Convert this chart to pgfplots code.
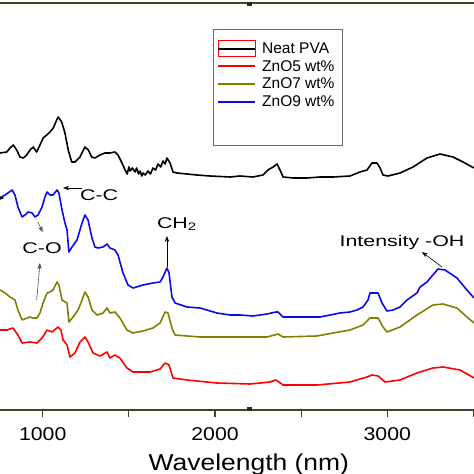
\documentclass[border=0pt]{standalone}
\usepackage{fontspec}
\setmainfont{Liberation Sans}
\usepackage{graphicx}
\usepackage{pgfplots}
\pgfplotsset{compat=1.18}
\usetikzlibrary{arrows.meta}
\definecolor{olivec}{RGB}{128,128,0}
\definecolor{axisc}{RGB}{70,66,40}
\definecolor{blueC}{RGB}{10,10,240}
\newcommand{\sx}[1]{\scalebox{1.15}[1]{#1}}
\newcommand{\ax}[1]{\scalebox{1.38}[1]{#1}}
\pgfplotsset{
  legblack/.style={legend image code/.code={\draw[red, line width=0.5bp, overlay] (0bp,-8bp) rectangle (37bp,8bp); \draw[black, line width=2bp] (0bp,0bp) -- (37bp,0bp);}},
  legred/.style={legend image code/.code={\draw[red, line width=2bp] (0bp,0bp) -- (37bp,0bp);}},
  legolive/.style={legend image code/.code={\draw[olivec, line width=2bp] (0bp,0bp) -- (37bp,0bp);}},
  legblue/.style={legend image code/.code={\draw[blueC, line width=2bp] (0bp,0bp) -- (37bp,0bp);}},
}

\pgfplotstableread{
w y
752 257
791 258
810 262
829 265
849 260
868 253
887 252
907 255
926 260
945 263
965 258
984 265
1003 272
1023 275
1042 278
1061 282
1081 290
1090 293
1110 288
1129 277
1148 260
1168 248
1187 248
1216 253
1245 263
1265 260
1284 253
1303 252
1332 255
1361 257
1390 257
1419 258
1437 255
1460 247
1478 240
1490 236
1500 243
1507 239
1520 242
1536 238
1545 242
1556 236
1565 239
1575 234
1582 237
1595 235
1611 239
1625 236
1640 242
1655 240
1669 246
1685 243
1698 249
1710 246
1721 252
1739 247
1756 238
1779 237
1837 236
1895 235
1971 234
2087 233
2145 234
2220 233
2278 235
2307 240
2337 243
2360 246
2377 240
2395 233
2453 232
2534 232
2609 233
2685 233
2783 234
2841 238
2882 240
2911 247
2940 247
2958 242
2975 235
3004 234
3074 237
3149 243
3230 252
3306 256
3381 253
3439 248
3503 242
}\neat

\pgfplotstableread{
w y
752 80
793 80
827 82
856 75
880 67
926 68
967 67
996 72
1025 80
1054 78
1089 83
1106 80
1118 70
1141 65
1158 53
1187 57
1216 68
1245 73
1263 68
1292 57
1332 54
1373 58
1390 52
1419 55
1448 52
1489 42
1524 38
1623 38
1681 41
1710 47
1733 45
1756 32
1837 30
2011 27
2203 26
2319 28
2354 30
2395 25
2592 25
2783 28
2882 33
2911 35
2946 34
2987 28
3074 30
3172 37
3265 42
3323 43
3422 40
3503 32
}\znofive

\pgfplotstableread{
w y
752 120
781 117
810 113
839 110
856 100
880 90
909 92
926 93
943 92
967 92
984 97
1002 107
1025 117
1042 118
1060 120
1083 128
1094 125
1112 110
1141 107
1152 88
1176 93
1205 100
1228 110
1245 118
1263 113
1286 100
1315 95
1350 97
1373 102
1390 97
1419 98
1448 92
1489 80
1524 77
1582 79
1640 82
1681 87
1710 98
1727 97
1750 82
1768 75
1913 73
2104 73
2302 73
2366 76
2395 73
2592 74
2685 77
2783 80
2859 85
2899 92
2946 92
2975 83
2998 78
3074 83
3172 95
3265 105
3323 106
3404 102
3462 93
3503 87
}\znoseven

\pgfplotstableread{
w y
752 212
781 215
798 217
822 220
839 215
856 203
880 193
897 195
915 198
938 197
955 193
973 195
996 203
1013 213
1025 218
1042 215
1060 215
1083 220
1094 217
1112 200
1129 187
1141 180
1152 158
1170 163
1199 170
1228 187
1245 195
1263 190
1286 172
1303 163
1321 162
1350 163
1373 166
1390 162
1419 160
1437 155
1466 137
1495 125
1524 122
1582 125
1640 127
1681 128
1698 133
1721 142
1733 137
1750 113
1768 107
1837 103
1913 102
2011 97
2087 95
2145 95
2220 94
2302 96
2354 98
2366 98
2395 93
2453 93
2609 93
2725 97
2783 98
2824 100
2859 103
2888 110
2899 117
2946 117
2969 107
2998 99
3033 100
3074 103
3114 110
3172 117
3190 123
3230 128
3294 141
3335 140
3404 132
3462 120
3503 112
}\znonine

\begin{document}
\begin{tikzpicture}
\useasboundingbox (0,-64bp) rectangle (474bp,410bp);
\begin{axis}[
  scale only axis, width=474bp, height=407bp,
  xmin=752, xmax=3503, ymin=0, ymax=407,
  axis x line=box, axis y line=none,
  x axis line style={color=axisc, line width=1.2bp},
  xtick={1000,1500,...,3500},
  xticklabels={\sx{1000},,\sx{2000},,\sx{3000},},
  xtick pos=lower,
  tick align=outside, major tick length=7bp,
  tick style={color=axisc, line width=1.2bp},
  xticklabel style={font=\fontsize{18.5bp}{20bp}\selectfont, anchor=base, yshift=-23bp},
  every axis x label/.style={font=\fontsize{23bp}{26bp}\selectfont, at={(rel axis cs:0.525,0)}, anchor=base, yshift=-60bp},
  xlabel={\sx{Wavelength (nm)}},
  every axis plot/.append style={line width=1.6bp, line join=round},
  legend style={draw=none, fill=none, at={(rel axis cs:0.4578,0.908)}, anchor=north west,
    inner sep=0pt, row sep=1.5bp, font=\fontsize{15.5bp}{17bp}\selectfont,
    /tikz/every odd column/.append style={column sep=4bp}},
  legend cell align=left,
]
\addplot[black, no markers, legblack] table[x=w,y=y] {\neat};
\addlegendentry{Neat PVA}
\addplot[red, no markers, legred] table[x=w,y=y] {\znofive};
\addlegendentry{ZnO5 wt\%}
\addplot[olivec, no markers, legolive] table[x=w,y=y] {\znoseven};
\addlegendentry{ZnO7 wt\%}
\addplot[blueC, no markers, legblue] table[x=w,y=y] {\znonine};
\addlegendentry{ZnO9 wt\%}

\draw[color=gray!85!black, line width=0.8bp] (rel axis cs:0.4494,0.936) rectangle (rel axis cs:0.7215,0.651);

\draw[color=axisc!60!black, line width=5bp] ([yshift=-3bp]rel axis cs:0.5274,0) -- ([yshift=3bp]rel axis cs:0.5274,0);
\draw[color=axisc!60!black, line width=5bp] ([yshift=-3bp]rel axis cs:0.5274,1) -- ([yshift=3bp]rel axis cs:0.5274,1);

\begin{scope}[font=\fontsize{15.5bp}{17bp}\selectfont]
\node at (axis cs:1327,215) {\ax{C-C}};
\node at (axis cs:996,162) {\ax{C-O}};
\node at (axis cs:1779,186) {\ax{CH\textsubscript{2}}};
\node at (axis cs:3085,168) {\ax{Intensity -OH}};
\end{scope}
\begin{scope}[-{Stealth[length=6bp,width=4.5bp]}, line width=0.6bp]
\draw (axis cs:1228,222) -- (axis cs:1118,222);
\draw[black!70] (axis cs:971,188) -- (axis cs:1000,178);
\draw[black!70] (axis cs:965,110) -- (axis cs:984,147);
\draw (axis cs:1721,143) -- (axis cs:1721,174);
\draw (axis cs:3317,143) -- (axis cs:3201,158);
\draw (axis cs:740,212) -- (axis cs:777,212);
\end{scope}
\end{axis}
\end{tikzpicture}
\end{document}
